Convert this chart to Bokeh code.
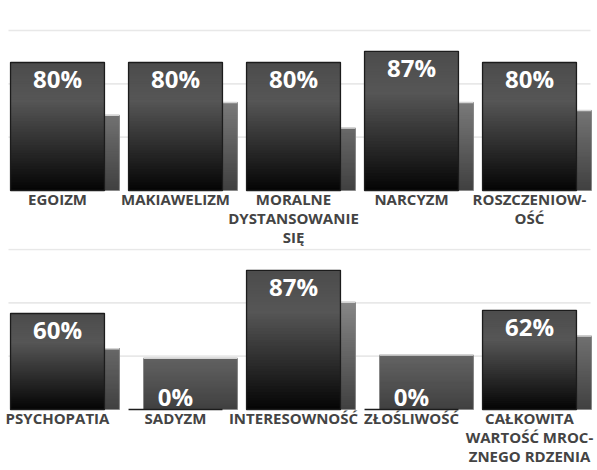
import numpy as np
from bokeh.plotting import figure
from bokeh.layouts import column
from bokeh.models import Range1d, ColumnDataSource
from bokeh.core.properties import value
from bokeh.embed import file_html
from bokeh.resources import INLINE

# ---- data ----
cats_top = ["EGOIZM", "MAKIAWELIZM", "MORALNE\nDYSTANSOWANIE\nSIĘ", "NARCYZM", "ROSZCZENIOW-\nOŚĆ"]
main_top = [80, 80, 80, 87, 80]
sec_top = [47, 55, 39, 55, 50]

cats_bot = ["PSYCHOPATIA", "SADYZM", "INTERESOWNOŚĆ", "ZŁOŚLIWOŚĆ", "CAŁKOWITA\nWARTOŚĆ MROC-\nZNEGO RDZENIA"]
main_bot = [60, 0, 87, 0, 62]
sec_bot = [38, 32, 67, 34, 46]

grid_ticks = [100 / 3, 200 / 3, 100]

W = 597
PX = 118.0            # pixels per category step
X0 = -57 / PX
X1 = X0 + W / PX
HALF = 0.398
SHIFT = 0.127
N = 48


def grey(level):
    lv = int(max(0, min(255, round(level))))
    return "#%02x%02x%02x" % (lv, lv, lv)


def main_level(t):  # t = 0 at top, 1 at bottom
    if t < 0.3:
        return 76 + t / 0.3 * 10
    return 86 - (t - 0.3) / 0.7 * 82


def gradient(p, xs, vals, left_off, right_off, level_fn):
    L, R, B, T, C = [], [], [], [], []
    for x, v in zip(xs, vals):
        if v <= 0:
            continue
        for k in range(N):
            t = 1 - (k + 0.5) / N
            L.append(x + left_off)
            R.append(x + right_off)
            B.append(v * k / N)
            T.append(v)
            C.append(grey(level_fn(t, v)))
    p.quad(left=L, right=R, bottom=B, top=T, fill_color=C, line_color=None)


def make_row(cats, mains, secs, height, y0, y1):
    p = figure(width=W, height=height, output_backend="svg", toolbar_location=None,
               x_range=Range1d(X0, X1), y_range=Range1d(y0, y1),
               min_border=0, outline_line_color=None, background_fill_color="white",
               border_fill_color="white")
    p.axis.visible = False
    p.grid.visible = False
    xs = np.arange(len(cats))

    # horizontal gridlines
    gx0 = X0 + 8 / PX
    gx1 = X1 - 7 / PX
    p.segment(x0=[gx0] * len(grid_ticks), x1=[gx1] * len(grid_ticks), y0=grid_ticks,
              y1=grid_ticks, line_color="#e8e8e8", line_width=1.6)

    # secondary bars (behind)
    gradient(p, xs, secs, -HALF + SHIFT, HALF + SHIFT,
             lambda t, v: 64 + (1 - t) * (1.05 * v))
    p.quad(left=xs - HALF + SHIFT, right=xs + HALF + SHIFT, bottom=0, top=secs,
           fill_color=None, line_color="#8a8a8a", line_width=1)
    p.segment(x0=xs - HALF + SHIFT, x1=xs + HALF + SHIFT, y0=secs, y1=secs,
              line_color="#d4d4d4", line_width=1.5)

    # main bars
    gradient(p, xs, mains, -HALF, HALF, lambda t, v: main_level(t))
    p.quad(left=xs - HALF, right=xs + HALF, bottom=0, top=mains,
           fill_color=None, line_color="#1c1c1c", line_width=1.3)

    # value labels
    mains_a = np.array(mains)
    offs = np.where(mains_a > 0, 16, -13)
    src = ColumnDataSource(dict(x=xs, y=mains_a, t=[f"{v}%" for v in mains], o=offs))
    p.text(x="x", y="y", text="t", y_offset="o", source=src, text_align="center",
           text_baseline="alphabetic", text_color="white", text_font=value("Open Sans"),
           text_font_style="bold", text_font_size="24px")

    # category labels
    p.text(x=xs, y=[0] * len(cats), text=cats, y_offset=-2, text_align="center",
           text_baseline="top", text_color="#444444", text_font=value("Open Sans"),
           text_font_style="bold", text_font_size="15px", text_line_height=0.95)
    return p


top = make_row(cats_top, main_top, sec_top, 248, -36.25, 118.75)
bot = make_row(cats_bot, main_bot, sec_bot, 222, -38.125, 100.625)

layout = column(top, bot, spacing=0)
open("out.html", "w").write(file_html(layout, INLINE))
